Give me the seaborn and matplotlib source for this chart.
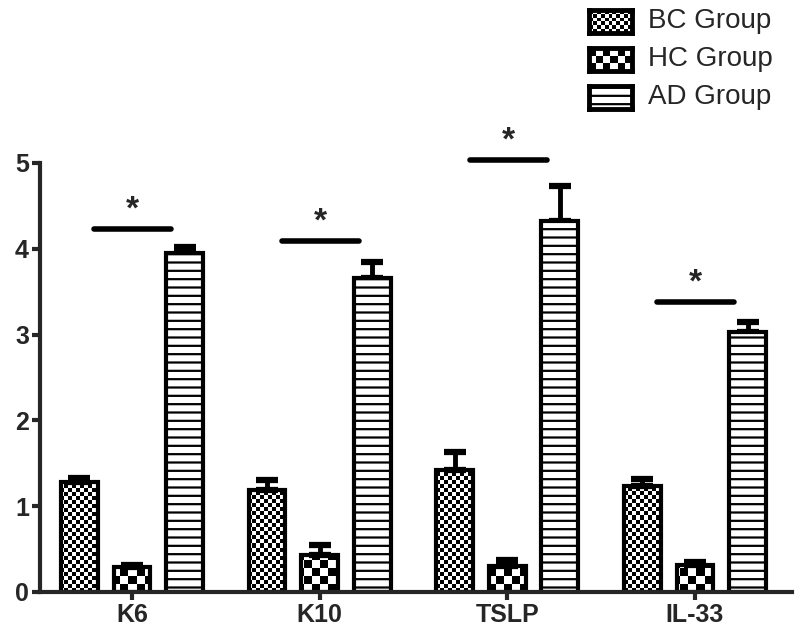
import numpy as np
import pandas as pd
import matplotlib
matplotlib.use('Agg')
import matplotlib.pyplot as plt
import seaborn as sns

# data
markers = ['K6', 'K10', 'TSLP', 'IL-33']
groups = ['BC Group', 'HC Group', 'AD Group']
bc_mean = [1.28, 1.19, 1.42, 1.23]
hc_mean = [0.29, 0.43, 0.30, 0.31]
ad_mean = [3.95, 3.66, 4.32, 3.03]
bc_err = [0.05, 0.12, 0.21, 0.09]
hc_err = [0.03, 0.12, 0.07, 0.04]
ad_err = [0.07, 0.19, 0.41, 0.12]
sig_height = [4.23, 4.09, 5.03, 3.38]
sig_label = ['*', '*', '*', '*']

df = pd.DataFrame({
    'marker': markers * 3,
    'group': [g for g in groups for _ in markers],
    'value': bc_mean + hc_mean + ad_mean,
})
errs = [bc_err, hc_err, ad_err]

sns.set_style('ticks')
plt.rcParams['font.family'] = ['Liberation Sans', 'DejaVu Sans']
plt.rcParams['hatch.linewidth'] = 1.6

fig = plt.figure(figsize=(8, 6.39), dpi=100)
ax = fig.add_axes([0.05, 0.0736, 0.94, 0.6714])

sns.barplot(data=df, x='marker', y='value', hue='group', ax=ax,
            palette=['white'] * 3, width=0.84, gap=0.3, errorbar=None,
            edgecolor='black', linewidth=3, legend=False)

ax.set_xlim(-0.49, 3.517)
ax.set_ylim(0, 5)

# checkerboard fill for BC and HC bars (images clipped to the bars)
def checker(cell_px):
    rows = int(round(429 / cell_px))
    cols = int(round(752 / cell_px))
    return np.indices((rows, cols)).sum(axis=0) % 2

board = {0: checker(4), 1: checker(8)}
for i in [0, 1]:
    for p in ax.containers[i]:
        p.set_facecolor('none')
        p.set_zorder(2)
        im = ax.imshow(board[i], cmap='gray', interpolation='nearest', origin='lower',
                       extent=[-0.49, 3.517, 0, 5], aspect='auto', zorder=1.5)
        im.set_clip_path(p)
for p in ax.containers[2]:
    p.set_hatch('--')
    p.set_zorder(2)
ax.set_xlim(-0.49, 3.517)
ax.set_ylim(0, 5)

# error bars (upper only)
for i, cont in enumerate(ax.containers[:3]):
    xs = [p.get_x() + p.get_width() / 2 for p in cont]
    ys = [p.get_height() for p in cont]
    ax.errorbar(xs, ys, yerr=[np.zeros(len(xs)), errs[i]], fmt='none', ecolor='black',
                elinewidth=3.5, capsize=8, capthick=4.5, zorder=1.8)

# significance lines
for i, h in enumerate(sig_height):
    ax.plot([i - 0.2, i + 0.21], [h, h], color='black', lw=4, solid_capstyle='round', clip_on=False)
    ax.text(i + 0.005, h + 0.04, sig_label[i], ha='center', va='bottom', fontsize=24,
            fontweight='bold', clip_on=False)

sns.despine(ax=ax)
for s in ['left', 'bottom']:
    ax.spines[s].set_linewidth(3)
ax.set_yticks([0, 1, 2, 3, 4, 5])
ax.tick_params(axis='both', width=3, length=6, labelsize=18, pad=2)
for lab in ax.get_xticklabels() + ax.get_yticklabels():
    lab.set_fontweight('bold')
ax.set_xlabel('')
ax.set_ylabel('')

# legend in the top right corner
key_y = [10, 48, 86]
for i, g in enumerate(groups):
    top = key_y[i]
    kax = fig.add_axes([589 / 800, 1 - (top + 23) / 639, 43 / 800, 23 / 639])
    if i < 2:
        cell = 4 if i == 0 else 8
        kax.imshow(np.indices((int(23 / cell) + 1, int(43 / cell) + 1)).sum(axis=0) % 2,
                   cmap='gray', interpolation='nearest', aspect='auto')
    else:
        kax.add_patch(plt.Rectangle((0, 0), 1, 1, facecolor='white', edgecolor='black',
                                    hatch='--', lw=0, transform=kax.transAxes))
    kax.set_xticks([])
    kax.set_yticks([])
    for s in kax.spines.values():
        s.set_linewidth(3.5)
        s.set_color('black')
    fig.text(648 / 800, 1 - (top + 11.5) / 639, g, fontsize=20, va='center', ha='left')

fig.savefig('out.png', dpi=100)
